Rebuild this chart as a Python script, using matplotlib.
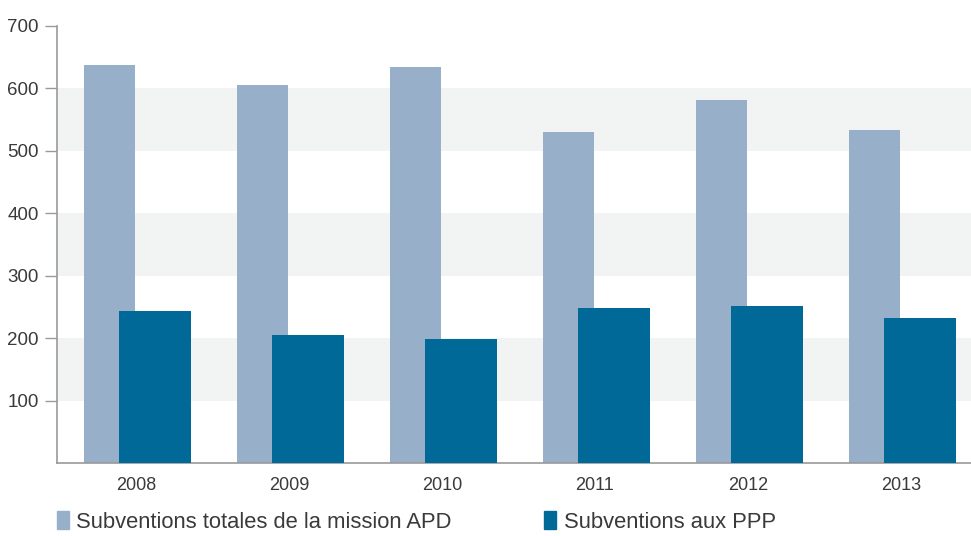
import matplotlib

matplotlib.use("Agg")
import matplotlib.pyplot as plt
from matplotlib.patches import Patch
import numpy as np

years = ["2008", "2009", "2010", "2011", "2012", "2013"]
total_apd = [638, 605, 634, 530, 582, 534]
ppp = [243, 205, 198, 248, 251, 232]
y_ticks = [100, 200, 300, 400, 500, 600, 700]
labels = ["Subventions totales de la mission APD", "Subventions aux PPP"]

LIGHT = "#97afc8"
DARK = "#006998"
BAND = "#f2f3f3"
TEXT = "#3a3a3a"
AXIS = "#9a9a9a"

plt.rcParams["font.family"] = ["Liberation Sans", "DejaVu Sans"]

fig = plt.figure(figsize=(9.71, 5.36), dpi=100)
ax = fig.add_axes([57 / 971, 1 - 463 / 536, 1 - 57 / 971, (463 - 26) / 536])

# alternating grey bands behind the bars
for lo in (100, 300, 500):
    ax.axhspan(lo, lo + 100, color=BAND, lw=0, zorder=0)

x = np.arange(len(years))
ax.bar(x - 0.17, total_apd, width=0.333, color=LIGHT, zorder=2)
ax.bar(x + 0.123, ppp, width=0.47, color=DARK, zorder=3)

ax.set_xlim(-0.516, 5.458)
ax.set_ylim(0, 700)
ax.set_yticks(y_ticks)
ax.set_yticklabels([str(v) for v in y_ticks], fontsize=13.5, color=TEXT)
ax.set_xticks(x)
ax.set_xticklabels(years, fontsize=13, color=TEXT)
ax.tick_params(axis="x", length=0, pad=10)
ax.tick_params(axis="y", length=9, width=1, color=AXIS, pad=4)

for side in ("top", "right"):
    ax.spines[side].set_visible(False)
for side in ("left", "bottom"):
    ax.spines[side].set_color(AXIS)
    ax.spines[side].set_linewidth(1.2)

handles = [Patch(color=LIGHT), Patch(color=DARK)]
fig.legend(handles, labels, loc="center left", bbox_to_anchor=(37 / 971, 1 - 522 / 536),
           ncol=2, frameon=False, fontsize=15.8, handlelength=0.55, handleheight=0.85,
           handletextpad=0.35, columnspacing=4.2, labelcolor=TEXT)

fig.savefig("out.png", dpi=100)
